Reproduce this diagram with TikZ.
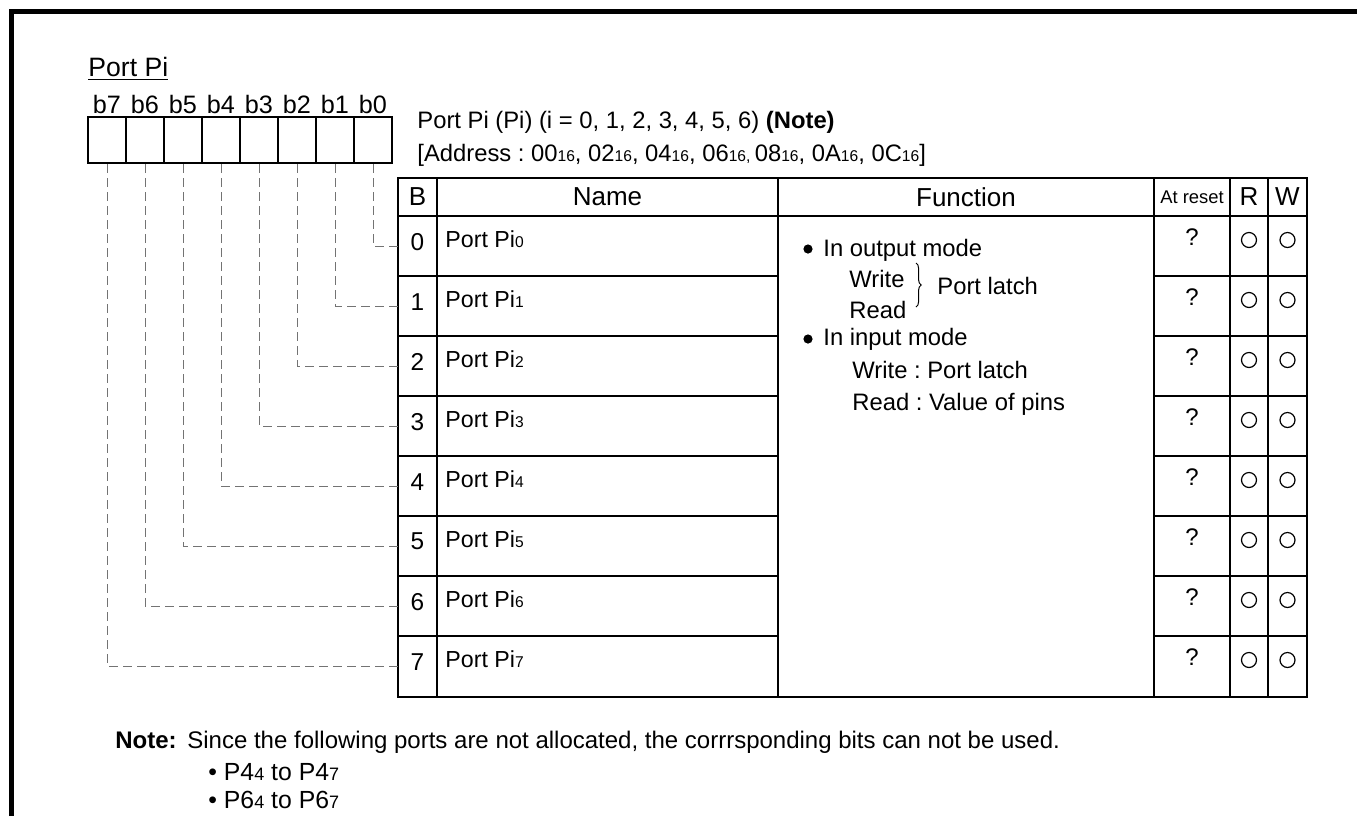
\documentclass[tikz,border=0pt]{standalone}
\usepackage{fontspec}
\setmainfont{Liberation Sans}
\usetikzlibrary{positioning,decorations.pathreplacing}
\newcommand{\sm}[1]{{\fontsize{7.8}{9}\selectfont #1}}
\newcommand{\fmain}{\fontsize{11.9}{13}\selectfont}
\newcommand{\fhead}{\fontsize{13}{15}\selectfont}
\frenchspacing

\begin{document}
\begin{tikzpicture}[x=0.5pt,y=-0.5pt,
    regcell/.style={draw, line width=1.2pt, minimum width=19pt, minimum height=23pt, inner sep=0pt},
    bitline/.style={black!55, line width=0.5pt, dash pattern=on 4.5pt off 2.5pt},
    txt/.style={anchor=base west, inner sep=0pt},
    grid/.style={line width=1.2pt},
    rwmark/.style={circle, draw, line width=0.6pt, minimum size=7.5pt, inner sep=0pt},
    fdot/.style={circle, fill, minimum size=4.6pt, inner sep=0pt}]
    \useasboundingbox (0,0) rectangle (1357,816);
    % frame
    \draw[line width=2.5pt] (11.5,816) -- (11.5,11.5) -- (1357,11.5);

    % register Pi
    \node[txt, font=\fontsize{13.3}{15}\selectfont] (title) at (88,76) {\underline{Port Pi}};
    \foreach \i in {7,...,0} {
        \node[regcell] (cell\i) at ({107+38*(7-\i)},140) {};
        \node[inner sep=0pt, font=\fontsize{12.6}{14}\selectfont] (blbl\i) at ({107+38*(7-\i)},104) {b\i};
    }

    % register name and address
    \node[txt, font=\fmain] (regname) at (417,128) {Port Pi (Pi) (i = 0, 1, 2, 3, 4, 5, 6) \textbf{(Note)}};
    \node[txt, font=\fmain] (regaddr) at (417,161) {[Address : 00\sm{16}, 02\sm{16}, 04\sm{16}, 06\sm{16, }08\sm{16}, 0A\sm{16}, 0C\sm{16}]};

    % table grid
    \draw[grid] (398,178) rectangle (1307,697);
    \draw[grid] (398,216) -- (1307,216);
    \foreach \x in {437,778,1154,1230,1268}
        \draw[grid] (\x,178) -- (\x,697);
    \foreach \i in {1,...,7} {
        \draw[grid] (398,{216+60*\i}) -- (778,{216+60*\i});
        \draw[grid] (1154,{216+60*\i}) -- (1307,{216+60*\i});
    }

    % table header
    \node[inner sep=0pt, font=\fhead] (hB) at (417.5,197) {B};
    \node[inner sep=0pt, font=\fhead] (hName) at (607.5,197) {Name};
    \node[inner sep=0pt, font=\fhead] (hFunc) at (966,197) {Function};
    \node[inner sep=0pt, font=\fontsize{9.2}{11}\selectfont] (hReset) at (1192,197) {At reset};
    \node[inner sep=0pt, font=\fhead] (hR) at (1249,197) {R};
    \node[inner sep=0pt, font=\fhead] (hW) at (1287.5,197) {W};

    % rows
    \foreach \i in {0,...,7} {
        \node[minimum width=19.5pt, minimum height=30pt, inner sep=0pt] (bnum\i) at (417.5,{246+60*\i}) {};
        \node[inner sep=0pt, font=\fontsize{12.2}{14}\selectfont] (bdig\i) at ([yshift=2.2pt]bnum\i.center) {\i};
        \node[txt, font=\fontsize{11.6}{13}\selectfont] (pname\i) at (445,{247+60*\i}) {Port Pi\sm{\i}};
        \node[inner sep=0pt, font=\fontsize{12}{14}\selectfont] (rst\i) at (1192,{237+60*\i}) {?};
        \node[rwmark] (rmark\i) at (1249,{240+60*\i}) {};
        \node[rwmark] (wmark\i) at (1287.5,{240+60*\i}) {};
        \draw[bitline] (cell\i.south) |- (bnum\i.west);
    }

    % function
    \node[fdot] (dotout) at (808,249) {};
    \node[txt, font=\fmain] (outmode) at (823,256) {In output mode};
    \node[txt, font=\fmain] (outw) at (849,287) {Write};
    \node[txt, font=\fmain] (outr) at (849,318) {Read};
    \coordinate (brtop) at (916,263);
    \coordinate (brbot) at (916,307);
    \draw[decorate, decoration={brace, amplitude=2.6pt}, line width=0.5pt] (brtop) -- (brbot);
    \node[txt, font=\fmain] (outlatch) at (937,294) {Port latch};
    \node[fdot] (dotin) at (808,339) {};
    \node[txt, font=\fmain] (inmode) at (823,345) {In input mode};
    \node[txt, font=\fmain] (inw) at (852,378) {Write : Port latch};
    \node[txt, font=\fmain] (inr) at (852,410) {Read : Value of pins};

    % note
    \node[txt, font=\bfseries\fontsize{12}{13}\selectfont] (notehd) at (115,748) {Note:};
    \node[txt, font=\fontsize{12}{13}\selectfont] (notetxt) at (187,748) {Since the following ports are not allocated, the corrrsponding bits can not be used.};
    \node[txt, font=\fontsize{12.4}{13}\selectfont] (note1) at (208,780) {• P4{\fontsize{9}{10}\selectfont 4} to P4{\fontsize{9}{10}\selectfont 7}};
    \node[txt, font=\fontsize{12.4}{13}\selectfont] (note2) at (208,808) {• P6{\fontsize{9}{10}\selectfont 4} to P6{\fontsize{9}{10}\selectfont 7}};
\end{tikzpicture}
\end{document}
